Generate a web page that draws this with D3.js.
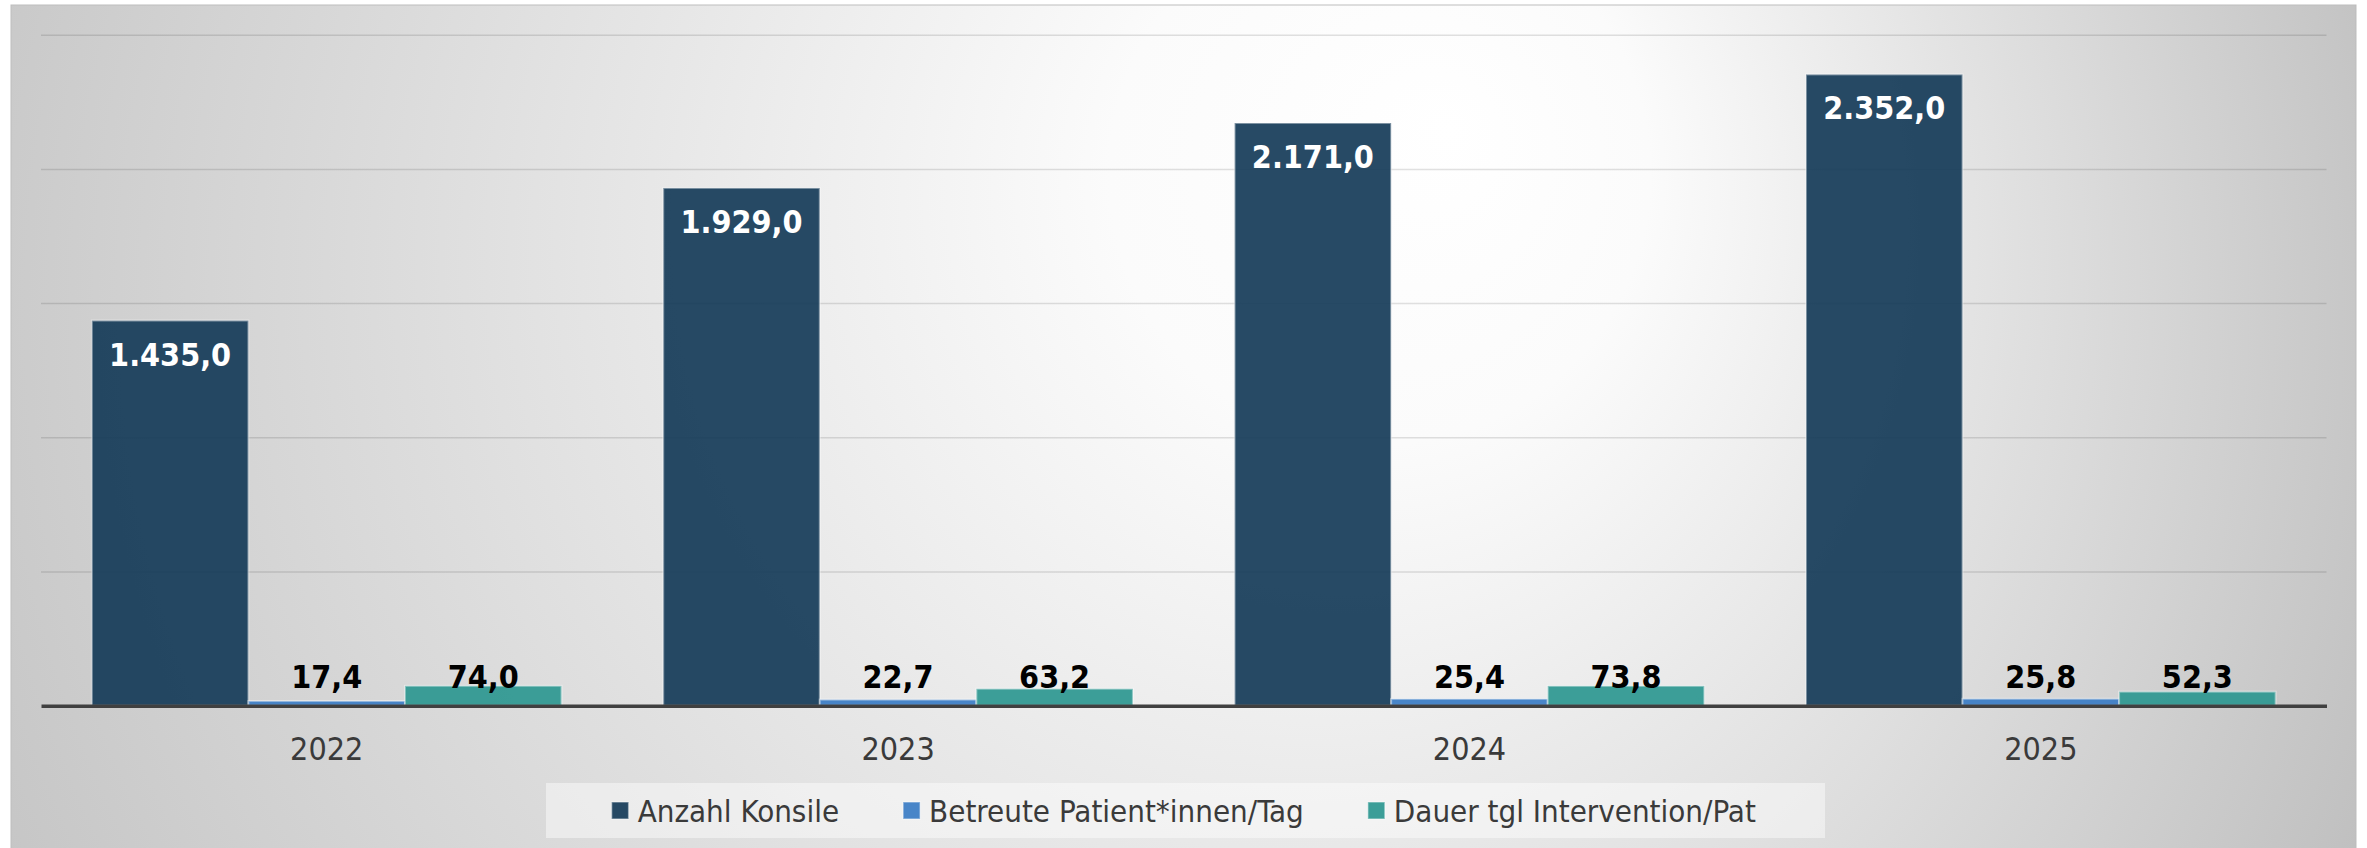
<!DOCTYPE html>
<html>
<head>
<meta charset="utf-8">
<script src="https://cdn.jsdelivr.net/npm/d3@7"></script>
<style>
  body { margin: 0; background: #fff; }
  text { font-family: 'DejaVu Sans Condensed', 'DejaVu Sans', sans-serif; font-stretch: condensed; }
</style>
</head>
<body>
<div id="chart"></div>
<script>
// data
const years = ["2022", "2023", "2024", "2025"];
const seriesNames = ["Anzahl Konsile", "Betreute Patient*innen/Tag", "Dauer tgl Intervention/Pat"];
const anzahlKonsile = [1435.0, 1929.0, 2171.0, 2352.0];
const betreutePatienten = [17.4, 22.7, 25.4, 25.8];
const dauerIntervention = [74.0, 63.2, 73.8, 52.3];
const yTicks = [0, 500, 1000, 1500, 2000, 2500];
const colors = ["#153b58", "#3a7cc4", "#2c9790"];

const seriesValues = [anzahlKonsile, betreutePatienten, dauerIntervention];
const data = years.map((yr, i) => ({
  year: yr,
  values: seriesNames.map((s, k) => ({key: s, value: seriesValues[k][i], idx: k}))
}));

const W = 2367, H = 848;
const plot = {left: 41, right: 2326.5, top: 34.7, bottom: 705.7};

const de = d3.formatLocale({decimal: ",", thousands: ".", grouping: [3], currency: ["", "€"]});
const fmt = de.format(",.1f");

const svg = d3.select("#chart").append("svg")
  .attr("width", W).attr("height", H);

const defs = svg.append("defs");
const bg = defs.append("radialGradient").attr("id", "bg")
  .attr("gradientUnits", "userSpaceOnUse")
  .attr("cx", 1100).attr("cy", 350).attr("r", 1350)
  .attr("fx", 1450).attr("fy", 130);
bg.append("stop").attr("offset", "0%").attr("stop-color", "#ffffff");
bg.append("stop").attr("offset", "20%").attr("stop-color", "#fbfbfb");
bg.append("stop").attr("offset", "100%").attr("stop-color", "#c0c0c0");

// gridlines get darker towards the baseline
const gridGrad = defs.append("linearGradient").attr("id", "grid")
  .attr("gradientUnits", "userSpaceOnUse")
  .attr("x1", 0).attr("y1", plot.top).attr("x2", 0).attr("y2", plot.bottom);
gridGrad.append("stop").attr("offset", "0%").attr("stop-color", "#000").attr("stop-opacity", 0.12);
gridGrad.append("stop").attr("offset", "100%").attr("stop-color", "#000").attr("stop-opacity", 0.55);

// chart area background
svg.append("rect")
  .attr("x", 11).attr("y", 5).attr("width", 2345).attr("height", 848)
  .attr("fill", "url(#bg)")
  .attr("stroke", "#bdbdbd").attr("stroke-width", 1);

// scales
const x = d3.scaleBand()
  .domain(years)
  .range([plot.left, plot.right])
  .paddingInner(0.178)
  .paddingOuter(0.089);

const xSub = d3.scaleBand()
  .domain(seriesNames)
  .range([0, x.bandwidth()]);

const y = d3.scaleLinear()
  .domain([0, 2500])
  .range([plot.bottom, plot.top]);

// gridlines
svg.append("g")
  .attr("transform", `translate(${plot.left},0)`)
  .call(d3.axisLeft(y).tickValues(yTicks.slice(1)).tickSize(-(plot.right - plot.left)).tickFormat(""))
  .call(g => g.select(".domain").remove())
  .call(g => g.selectAll(".tick line").attr("stroke", "url(#grid)").attr("stroke-width", 1.5));

// bars
const groups = svg.append("g")
  .selectAll("g")
  .data(data)
  .join("g")
  .attr("transform", d => `translate(${x(d.year)},0)`);

groups.selectAll("rect")
  .data(d => d.values)
  .join("rect")
  .attr("x", d => xSub(d.key))
  .attr("y", d => y(d.value))
  .attr("width", xSub.bandwidth())
  .attr("height", d => y(0) - y(d.value))
  .attr("fill", d => colors[d.idx])
  .attr("fill-opacity", 0.92)
  .attr("stroke", "#fff")
  .attr("stroke-opacity", 0.4)
  .attr("stroke-width", 2);

// x axis
svg.append("g")
  .attr("transform", `translate(0,${y(0)})`)
  .call(d3.axisBottom(x).tickSize(0).tickPadding(0))
  .call(g => g.select(".domain").attr("stroke", "#404040").attr("stroke-width", 3.5))
  .call(g => g.selectAll(".tick text")
    .attr("y", 54).attr("dy", null)
    .attr("fill", "#3a3a3a")
    .style("font-size", "32px"));

// data labels
groups.selectAll("text.lbl")
  .data(d => d.values)
  .join("text")
  .attr("class", "lbl")
  .attr("x", d => xSub(d.key) + xSub.bandwidth() / 2)
  .attr("y", d => d.idx === 0 ? y(d.value) + 45 : y(0) - 18)
  .attr("text-anchor", "middle")
  .attr("fill", d => d.idx === 0 ? "#fff" : "#000")
  .style("font-size", "32px")
  .style("font-weight", "bold")
  .text(d => fmt(d.value));

// legend
svg.append("rect")
  .attr("x", 546).attr("y", 783).attr("width", 1279).attr("height", 55)
  .attr("fill", "#fff").attr("fill-opacity", 0.45);

const legend = svg.append("g");
const items = legend.selectAll("g")
  .data(seriesNames)
  .join("g");
items.append("rect")
  .attr("y", 802).attr("width", 17).attr("height", 17)
  .attr("fill", (d, i) => colors[i]).attr("fill-opacity", 0.92)
  .attr("stroke", "#fff").attr("stroke-opacity", 0.4).attr("stroke-width", 1.5);
items.append("text")
  .attr("x", 26).attr("y", 822)
  .attr("fill", "#3a3a3a")
  .style("font-size", "31px")
  .text(d => d);

const widths = [];
items.each(function(d) {
  widths.push(26 + d3.select(this).select("text").node().getComputedTextLength());
});
const gap = 64;
const total = d3.sum(widths) + gap * (widths.length - 1);
let start = (plot.left + plot.right) / 2 - total / 2;
items.attr("transform", (d, i) => {
  const t = `translate(${start},0)`;
  start += widths[i] + gap;
  return t;
});
</script>
</body>
</html>
